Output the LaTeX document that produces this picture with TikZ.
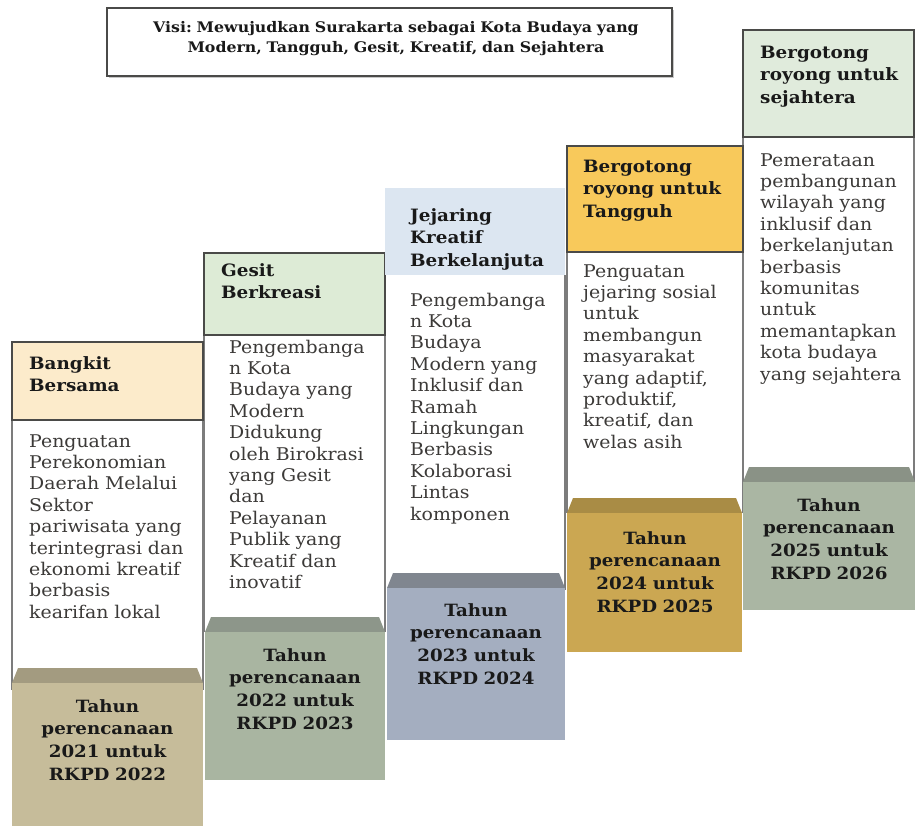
\documentclass[tikz,border=0pt]{standalone}
\usepackage{fontspec}
\setmainfont{DejaVu Serif}[FakeStretch=1.08]
\frenchspacing
\definecolor{hdrline}{HTML}{4A4A48}
\definecolor{bodyline}{HTML}{7C7C7C}
\definecolor{bodytext}{HTML}{3C3A38}
\definecolor{hA}{HTML}{FCEBCB}
\definecolor{hB}{HTML}{DDEBD6}
\definecolor{hC}{HTML}{DCE6F1}
\definecolor{hD}{HTML}{F8C95B}
\definecolor{hE}{HTML}{E0EBDC}
\definecolor{pA}{HTML}{C6BC9A}
\definecolor{pAd}{HTML}{A39B80}
\definecolor{pB}{HTML}{A9B5A1}
\definecolor{pBd}{HTML}{8D968A}
\definecolor{pC}{HTML}{A4AEC0}
\definecolor{pCd}{HTML}{80868F}
\definecolor{pD}{HTML}{CBA752}
\definecolor{pDd}{HTML}{A98C45}
\definecolor{pE}{HTML}{AAB6A3}
\definecolor{pEd}{HTML}{8A9286}
\newcommand{\drawplinth}[6]{%
  \fill[#6] (#1+6,#3) -- (#2-6,#3) -- (#2,#3+15) -- (#1,#3+15) -- cycle;
  \fill[#5] (#1,#3+15) rectangle (#2,#4);
}
\newcommand{\drawbody}[4]{%
  \fill[white] (#1,#3) rectangle (#2,#4);
  \draw[bodyline,line width=2.2pt] (#1,#3) -- (#1,#4);
  \draw[bodyline,line width=2.2pt] (#2,#3) -- (#2,#4);
}
\begin{document}
\begin{tikzpicture}[x=1pt,y=-1pt,
  hbox/.style={draw=hdrline,line width=1.4pt},
  htext/.style={anchor=base west,inner sep=0pt,text width=170pt,align=left,
    font=\bfseries\fontsize{17}{22.5}\selectfont,text=black!90},
  btext/.style={anchor=base west,inner sep=0pt,text width=175pt,align=left,
    font=\fontsize{17.5}{21.4}\selectfont,text=bodytext},
  ptext/.style={anchor=base,inner sep=0pt,text width=175pt,align=center,
    font=\bfseries\fontsize{16.9}{22.8}\selectfont,text=black!90}
]
\useasboundingbox (0,0) rectangle (915,827);
\fill[white] (0,0) rectangle (915,827);

% vision box
\fill[black!22] (109,10) rectangle (674,78);
\draw[hdrline,line width=1.5pt,fill=white] (107,8) rectangle (672,76);
\node[anchor=base,inner sep=0pt,text width=560pt,align=center,
  font=\bfseries\fontsize{14.6}{20}\selectfont,text=black!90] (visi) at (396,32)
  {Visi: Mewujudkan Surakarta sebagai Kota Budaya yang\\Modern, Tangguh, Gesit, Kreatif, dan Sejahtera};

% bodies
\drawbody{12}{203}{420}{690}
\drawbody{204}{385}{335}{632}
\drawbody{385}{565}{275}{590}
\drawbody{567}{743}{252}{513}
\drawbody{743}{914}{137}{482}

% headers
\fill[hA] (12,342) rectangle (203,420); \draw[hbox] (12,342) rectangle (203,420);
\fill[hB] (204,253) rectangle (385,335); \draw[hbox] (204,253) rectangle (385,335);
\fill[hC] (385,188) rectangle (565,275);
\fill[hD] (567,146) rectangle (743,252); \draw[hbox] (567,146) rectangle (743,252);
\fill[hE] (743,30) rectangle (914,137); \draw[hbox] (743,30) rectangle (914,137);

% plinths
\drawplinth{12}{203}{668}{826}{pA}{pAd}
\drawplinth{205}{385}{617}{780}{pB}{pBd}
\drawplinth{387}{565}{573}{740}{pC}{pCd}
\drawplinth{567}{742}{498}{652}{pD}{pDd}
\drawplinth{743}{915}{467}{610}{pE}{pEd}

% column 1
\node[htext] (h1) at (29,369) {Bangkit\\Bersama};
\node[btext] (b1) at (29,447) {Penguatan\\Perekonomian\\\makebox[158pt][s]{Daerah Melalui}\\Sektor\\\makebox[158pt][s]{pariwisata yang}\\\makebox[158pt][s]{terintegrasi dan}\\\makebox[158pt][s]{ekonomi kreatif}\\berbasis\\kearifan lokal};
\node[ptext] (p1) at (107.5,712) {Tahun\\perencanaan\\2021 untuk\\RKPD 2022};

% column 2
\node[htext] (h2) at (221,276) {Gesit\\Berkreasi};
\node[btext] (b2) at (229,353) {Pengembanga\\n Kota\\Budaya yang\\Modern\\Didukung\\oleh Birokrasi\\yang Gesit\\dan\\Pelayanan\\Publik yang\\Kreatif dan\\inovatif};
\node[ptext] (p2) at (295,661) {Tahun\\perencanaan\\2022 untuk\\RKPD 2023};

% column 3
\node[htext] (h3) at (410,221) {Jejaring\\Kreatif\\Berkelanjuta};
\node[btext] (b3) at (410,306) {Pengembanga\\n Kota\\Budaya\\Modern yang\\Inklusif dan\\Ramah\\Lingkungan\\Berbasis\\Kolaborasi\\Lintas\\komponen};
\node[ptext] (p3) at (476,616) {Tahun\\perencanaan\\2023 untuk\\RKPD 2024};

% column 4
\node[htext] (h4) at (583,172) {Bergotong\\royong untuk\\Tangguh};
\node[btext] (b4) at (583,277) {Penguatan\\jejaring sosial\\untuk\\membangun\\masyarakat\\yang adaptif,\\produktif,\\kreatif, dan\\welas asih};
\node[ptext] (p4) at (655,544) {Tahun\\perencanaan\\2024 untuk\\RKPD 2025};

% column 5
\node[htext] (h5) at (760,58) {Bergotong\\royong untuk\\sejahtera};
\node[btext] (b5) at (760,166) {Pemerataan\\pembangunan\\wilayah yang\\inklusif dan\\berkelanjutan\\berbasis\\komunitas\\untuk\\memantapkan\\kota budaya\\yang sejahtera};
\node[ptext] (p5) at (829,511) {Tahun\\perencanaan\\2025 untuk\\RKPD 2026};
\end{tikzpicture}
\end{document}
